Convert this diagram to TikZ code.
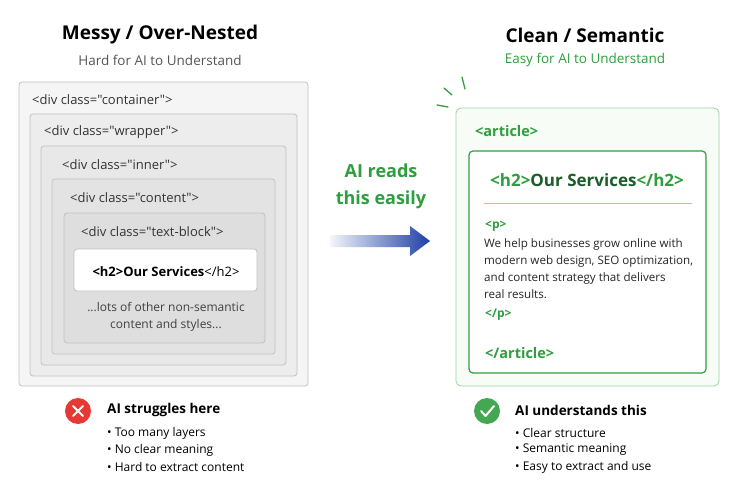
\documentclass[tikz,border=0pt]{standalone}
\usepackage{fontspec}
\setmainfont{Open Sans}
\newfontfamily\tagfont{Open Sans}
\usetikzlibrary{shadings}
\definecolor{okgreen}{HTML}{2E9E3E}
\definecolor{dkgreen}{HTML}{1B5E2A}
\definecolor{lgreen}{HTML}{9BD3A2}
\definecolor{txtgray}{HTML}{555555}
\definecolor{boxline}{HTML}{BFC1C5}
\definecolor{arrowblue}{HTML}{1D3FA6}
\definecolor{badred}{HTML}{E53935}
\tikzset{
  layer/.style={draw=boxline,rounded corners=3pt,line width=0.8pt},
  tag/.style={anchor=west,inner sep=0pt,font=\tagfont\fontsize{13}{15}\selectfont,text=black!80},
  gtag/.style={anchor=west,inner sep=0pt,font=\fontsize{14.5}{17}\selectfont\bfseries,text=okgreen},
  title/.style={inner sep=0pt,font=\fontsize{19}{22}\selectfont\bfseries},
  subtitle/.style={inner sep=0pt,font=\fontsize{13.5}{16}\selectfont},
  bullet/.style={anchor=west,inner sep=0pt,font=\fontsize{12}{14}\selectfont},
}
\begin{document}
\begin{tikzpicture}[x=1pt,y=-1pt]
  \useasboundingbox[fill=white] (0,0) rectangle (750,500);

  % left side: nested divs
  \node[title] (ltitle) at (160,35) {Messy / Over-Nested};
  \node[subtitle,text=txtgray] (lsub) at (160,60) {Hard for AI to Understand};
  \fill[layer,fill=black!4] (19,82) rectangle (308,386);
  \fill[layer,fill=black!7] (30,114) rectangle (297,376);
  \fill[layer,fill=black!9] (41,146) rectangle (286,365);
  \fill[layer,fill=black!11] (52,179) rectangle (275,354);
  \fill[layer,fill=black!13] (64,213) rectangle (265,343);
  \fill[layer,fill=white] (74,249) rectangle (257,291);
  \node[tag] (container) at (32,100) {<div class="container">};
  \node[tag] (wrapper) at (44,132) {<div class="wrapper">};
  \node[tag] (inner) at (62,165) {<div class="inner">};
  \node[tag] (content) at (70,198) {<div class="content">};
  \node[tag] (textblock) at (81,232) {<div class="text-block">};
  \node[inner sep=0pt,font=\fontsize{13}{15}\selectfont] (lh2) at (166,272) {\textbf{<h2>Our Services}</h2>};
  \node[inner sep=0pt,align=center,font=\fontsize{12}{17}\selectfont,text=black!75] (lots) at (166,317)
    {...lots of other non-semantic\\content and styles...};

  % middle arrow
  \shade[left color=arrowblue!5,right color=arrowblue]
    (330,235) -- (410,235) -- (410,226) -- (430,241) -- (410,256) -- (410,247) -- (330,247) -- cycle;
  \node[inner sep=0pt,align=center,font=\fontsize{18}{27}\selectfont\bfseries,text=okgreen] (reads) at (381,186)
    {AI reads\\this easily};

  % right side: semantic html
  \node[title] (rtitle) at (585,35) {Clean / Semantic};
  \node[subtitle,text=okgreen] (rsub) at (585,60) {Easy for AI to Understand};
  \draw[okgreen,line width=1.3pt,line cap=round] (437,105) -- (448,107)
    (444,88) -- (452,95) (462,77) -- (465,89);
  \draw[draw=lgreen,fill=green!60!black!3,rounded corners=5pt,line width=0.8pt] (456,108) rectangle (719,386);
  \draw[draw=okgreen,fill=white,rounded corners=4pt,line width=1.2pt] (469,151) rectangle (706,373);
  \node[gtag] (article) at (475,131) {<article>};
  \node[inner sep=0pt,font=\fontsize{17}{20}\selectfont\bfseries,text=okgreen] (rh2) at (587,180)
    {<h2>\textcolor{dkgreen}{Our Services}</h2>};
  \draw[lgreen,line width=1pt] (484,203) -- (692,203);
  \node[gtag,font=\fontsize{12}{14}\selectfont\bfseries] (popen) at (485,226) {<p>};
  \node[anchor=north west,inner sep=0pt,align=left,font=\fontsize{11.6}{17}\selectfont,text=black!85] (para) at (484,238)
    {We help businesses grow online with\\modern web design, SEO optimization,\\and content strategy that delivers\\real results.};
  \node[gtag,font=\fontsize{12}{14}\selectfont\bfseries] (pclose) at (485,315) {</p>};
  \node[gtag] (artclose) at (485,353) {</article>};

  % bottom notes
  \fill[badred] (78,411) circle (13);
  \draw[white,line width=2pt,line cap=round] (73,406) -- (83,416) (83,406) -- (73,416);
  \node[bullet,font=\fontsize{13.5}{16}\selectfont\bfseries] (bad) at (107,410) {AI struggles here};
  \foreach \t [count=\i] in {Too many layers,No clear meaning,Hard to extract content}
    \node[bullet] (bad\i) at (107,416+17*\i) {• \t};
  \fill[okgreen!90] (487,411) circle (13);
  \draw[white,line width=2pt,line cap=round,line join=round] (481,411) -- (485.5,416) -- (494,406);
  \node[bullet,font=\fontsize{13.5}{16}\selectfont\bfseries] (good) at (515,410) {AI understands this};
  \foreach \t [count=\i] in {Clear structure,Semantic meaning,Easy to extract and use}
    \node[bullet] (good\i) at (515,416+17*\i) {• \t};
\end{tikzpicture}
\end{document}
